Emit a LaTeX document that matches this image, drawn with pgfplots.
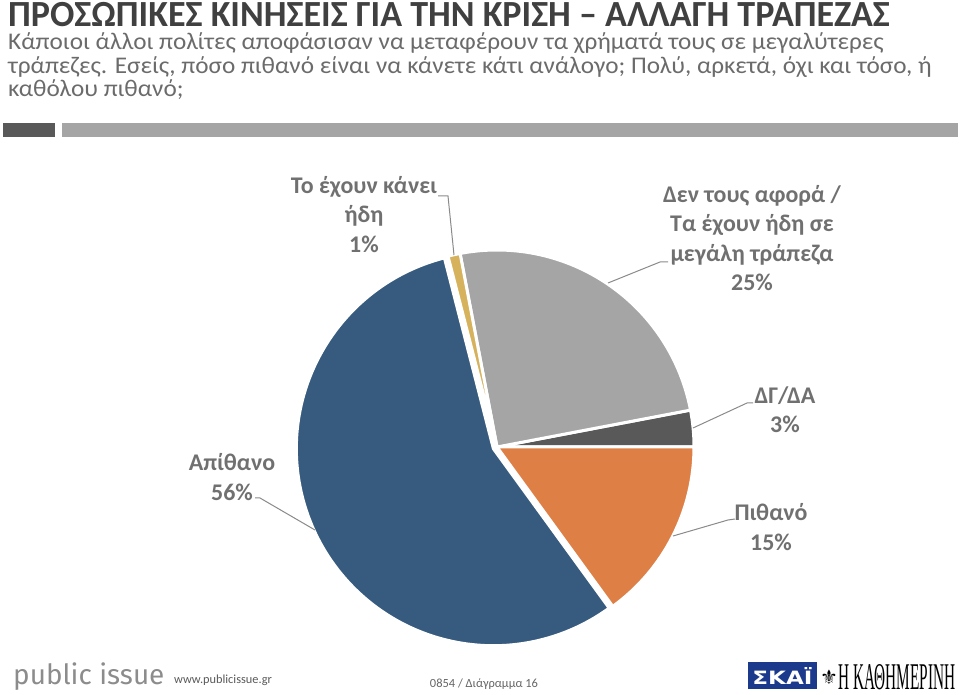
\documentclass[border=0pt]{standalone}
\usepackage{pgfplots}
\pgfplotsset{compat=1.18}
\usepackage{fontspec}
\setmainfont{Carlito}
\newfontfamily\pubfont{Fira Sans}
\newfontfamily\kathfont{Liberation Serif}
\newfontfamily\symfont{DejaVu Sans}
\definecolor{pieblue}{HTML}{365B7E}
\definecolor{piegray}{HTML}{A5A5A5}
\definecolor{piedark}{HTML}{595959}
\definecolor{pieorange}{HTML}{DE7F46}
\definecolor{piegold}{HTML}{D6B25C}
\definecolor{lbl}{HTML}{707070}
\definecolor{lead}{HTML}{8A8A8A}
\definecolor{titlec}{HTML}{404040}
\definecolor{subc}{HTML}{6B6B6B}
\definecolor{skai}{HTML}{1C3A8C}
% data (percent)
\def\pDK{3}      % ΔΓ/ΔΑ
\def\pNC{25}     % Δεν τους αφορά
\def\pDone{1}    % Το έχουν κάνει ήδη
\def\pUn{56}     % Απίθανο
\def\pLi{15}     % Πιθανό
\pgfmathsetmacro\aA{0}
\pgfmathsetmacro\aB{\aA+3.6*\pDK}
\pgfmathsetmacro\aC{\aB+3.6*\pNC}
\pgfmathsetmacro\aD{\aC+3.6*\pDone}
\pgfmathsetmacro\aE{\aD+3.6*\pUn}
\pgfmathsetmacro\aF{\aE+3.6*\pLi}
\pgfmathsetmacro\aM{(\aD+\aE)/2}
\def\R{197bp}
\begin{document}
\begin{tikzpicture}
\begin{axis}[x=1bp,y=1bp,xmin=0,xmax=960,ymin=0,ymax=695,hide axis,clip=false,
  at={(0,0)},anchor=south west]
% header
\node[anchor=base west,inner sep=0,text=titlec] at (axis cs:8,668) {\scalebox{0.978}[1]{\bfseries\fontsize{37}{37}\selectfont ΠΡΟΣΩΠΙΚΕΣ ΚΙΝΗΣΕΙΣ ΓΙΑ ΤΗΝ ΚΡΙΣΗ – ΑΛΛΑΓΗ ΤΡΑΠΕΖΑΣ}};
\tikzset{sub/.style={anchor=base west,inner sep=0,text=subc}}
\node[sub] at (axis cs:8,645) {\scalebox{1.055}[1]{\fontsize{24}{24}\selectfont Κάποιοι άλλοι πολίτες αποφάσισαν να μεταφέρουν τα χρήματά τους σε μεγαλύτερες}};
\node[sub] at (axis cs:8,621.5) {\scalebox{1.055}[1]{\fontsize{24}{24}\selectfont τράπεζες. Εσείς, πόσο πιθανό είναι να κάνετε κάτι ανάλογο; Πολύ, αρκετά, όχι και τόσο, ή}};
\node[sub] at (axis cs:8,598) {\scalebox{1.055}[1]{\fontsize{24}{24}\selectfont καθόλου πιθανό;}};
\fill[piedark] (axis cs:3,558) rectangle (axis cs:55,572);
\fill[piegray] (axis cs:62,558) rectangle (axis cs:958,572);
% pie
\fill[piedark,draw=white,line width=3bp,line join=round] (axis cs:497,248) -- ++(\aA:\R) arc[start angle=\aA,end angle=\aB,radius=\R] -- cycle;
\fill[piegray,draw=white,line width=3bp,line join=round] (axis cs:497,248) -- ++(\aB:\R) arc[start angle=\aB,end angle=\aC,radius=\R] -- cycle;
\fill[piegold,draw=white,line width=3bp,line join=round] (axis cs:497,248) -- ++(\aC:\R) arc[start angle=\aC,end angle=\aD,radius=\R] -- cycle;
\fill[pieblue,draw=white,line width=3bp,line join=round] ([shift={(\aM:4bp)}]axis cs:497,248) -- ++(\aD:\R) arc[start angle=\aD,end angle=\aE,radius=\R] -- cycle;
\fill[pieorange,draw=white,line width=3bp,line join=round] (axis cs:497,248) -- ++(\aE:\R) arc[start angle=\aE,end angle=\aF,radius=\R] -- cycle;
% leader lines
\draw[lead,line width=1bp] (axis cs:438,499) -- (axis cs:448,499) -- (axis cs:454,440);
\draw[lead,line width=1bp] (axis cs:608,412) -- (axis cs:660,433) -- (axis cs:668,433);
\draw[lead,line width=1bp] (axis cs:693,267) -- (axis cs:747,292) -- (axis cs:753,292);
\draw[lead,line width=1bp] (axis cs:673,159) -- (axis cs:728,175) -- (axis cs:735,176);
\draw[lead,line width=1bp] (axis cs:255,197) -- (axis cs:260,197) -- (axis cs:315,165);
% labels
\tikzset{lab/.style={align=center,inner sep=0,text=lbl,font=\bfseries\fontsize{24}{29.5}\selectfont}}
\node[lab] at (axis cs:364,480.5) {Το έχουν κάνει\\ήδη\\1\%};
\node[lab] at (axis cs:752,457) {Δεν τους αφορά /\\Τα έχουν ήδη σε\\μεγάλη τράπεζα\\25\%};
\node[lab] at (axis cs:785,285) {ΔΓ/ΔΑ\\3\%};
\node[lab] at (axis cs:771,168) {Πιθανό\\15\%};
\node[lab] at (axis cs:232,218) {Απίθανο\\56\%};
% footer
\node[anchor=base west,inner sep=0,text=black!45,font=\pubfont\fontsize{28}{28}\selectfont] at (axis cs:13,11) {public issue};
\node[anchor=base west,inner sep=0,text=black!65,font=\fontsize{12.4}{12.4}\selectfont] at (axis cs:174,12) {www.publicissue.gr};
\node[anchor=base,inner sep=0,text=black!60,font=\fontsize{12.5}{12.5}\selectfont] at (axis cs:484,8) {0854 / Διάγραμμα 16};
\fill[skai] (axis cs:748,6) rectangle (axis cs:817,33);
\node[anchor=center,inner sep=0,text=white] at (axis cs:782.5,19.5) {\resizebox{60bp}{17bp}{\symfont\bfseries ΣΚΑΪ}};
\node[anchor=center,inner sep=0,text=black,font=\symfont\fontsize{20}{20}\selectfont] at (axis cs:829,18) {⚜};
\node[anchor=base west,inner sep=0,text=black] at (axis cs:838,5) {\resizebox{117bp}{25bp}{\kathfont Η ΚΑΘΗΜΕΡΙΝΗ}};
\end{axis}
\pgfresetboundingbox
\path (0,0) rectangle (960bp,695bp);
\end{tikzpicture}
\end{document}
